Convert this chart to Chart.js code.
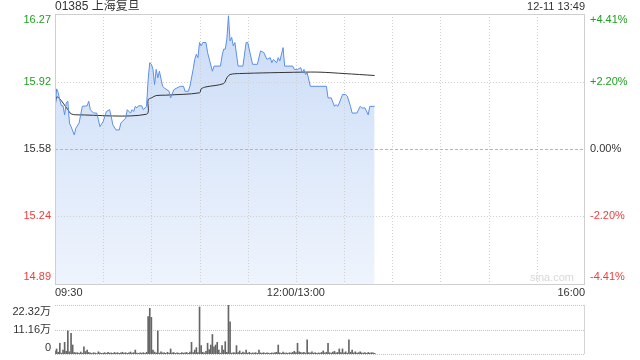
<!DOCTYPE html>
<html>
<head>
<meta charset="utf-8">
<script src="https://cdn.jsdelivr.net/npm/chart.js@4.4.1/dist/chart.umd.min.js"></script>
<style>
  html, body { margin: 0; padding: 0; background: #fff; }
  #wrap { position: relative; width: 640px; height: 360px; }
  canvas { position: absolute; left: 0; }
  #priceChart { top: 0; }
  #volChart { top: 300px; }
</style>
</head>
<body>
<div id="wrap">
  <canvas id="priceChart" width="640" height="300"></canvas>
  <canvas id="volChart" width="640" height="60"></canvas>
</div>
<script>
// ---- chart data ----
const stockTitle = '01385 上海复旦';
const stampText = '12-11 13:49';
const prevClose = 15.58;

const priceTicks = [16.267, 15.923, 15.58, 15.237, 14.893];
const priceTickLabels = ['16.27', '15.92', '15.58', '15.24', '14.89'];
const pctTickLabels = ['+4.41%', '+2.20%', '0.00%', '-2.20%', '-4.41%'];

const timeTicks = [0, 150, 330];               // minutes after 09:30 (lunch break removed)
const timeTickLabels = ['09:30', '12:00/13:00', '16:00'];

const volTicks = [22.32, 11.16, 0];
const volTickLabels = ['22.32万', '11.16万', '0'];

// price line vertices: minute index -> price
const priceMinutes = [0, 1, 2, 3, 4, 5, 6, 7, 8, 9, 10, 12, 13, 15, 17, 20, 21, 22, 24, 26,
  27, 28, 30, 32, 34, 35, 36, 38, 40, 41, 44, 45, 47, 48, 49, 50, 51, 52, 54, 55,
  57, 58, 59, 60, 61, 62, 63, 64, 65, 67, 68, 71, 72, 74, 76, 78, 80, 81, 83, 84,
  86, 87, 88, 89, 90, 91, 92, 94, 95, 98, 99, 103, 104, 105, 106, 107, 108, 109, 110, 111,
  112, 114, 117, 119, 120, 123, 126, 128, 130, 132, 134, 135, 136, 138, 139, 140, 142, 143, 148, 149,
  151, 153, 154, 155, 156, 157, 159, 169, 170, 172, 174, 175, 176, 177, 179, 181, 182, 184, 185, 188,
  190, 191, 193, 195, 196, 199];
const priceValues = [15.78, 15.886, 15.866, 15.83, 15.80, 15.80, 15.754, 15.814, 15.823, 15.712, 15.694, 15.652, 15.686, 15.712, 15.797, 15.80, 15.823, 15.78, 15.763, 15.763,
  15.729, 15.694, 15.72, 15.771, 15.78, 15.746, 15.703, 15.677, 15.677, 15.712, 15.737, 15.78, 15.763, 15.78, 15.771, 15.797, 15.789, 15.80, 15.80, 15.78,
  15.797, 15.934, 16.019, 16.011, 15.985, 15.908, 15.985, 15.942, 15.976, 15.899, 15.891, 15.874, 15.84, 15.882, 15.891, 15.899, 15.899, 15.874, 15.874, 15.899,
  15.985, 16.036, 16.062, 16.045, 16.122, 16.105, 16.122, 16.122, 16.071, 15.976, 16.002, 16.002, 16.053, 16.088, 16.088, 16.139, 16.258, 16.13, 16.148, 16.105,
  16.122, 16.002, 16.002, 16.122, 16.122, 16.011, 16.011, 16.079, 16.071, 16.036, 16.045, 16.019, 16.036, 16.019, 16.045, 16.028, 16.096, 16.002, 16.002, 15.985,
  15.985, 15.994, 15.968, 15.985, 15.959, 15.968, 15.899, 15.899, 15.84, 15.84, 15.797, 15.806, 15.797, 15.814, 15.857, 15.857, 15.849, 15.797, 15.763, 15.763,
  15.797, 15.789, 15.789, 15.754, 15.797, 15.797];

// average price line vertices
const avgMinutes = [0, 1, 3, 5, 8, 10, 13, 57, 58, 60, 63, 69, 90, 91, 94, 105, 107, 109, 115, 153, 165, 180, 199];
const avgValues = [15.78, 15.845, 15.835, 15.814, 15.78, 15.759, 15.754, 15.757, 15.831, 15.84, 15.852, 15.854, 15.866, 15.886, 15.896, 15.913, 15.942, 15.959, 15.964, 15.971, 15.971, 15.964, 15.954];

// volume per minute (万股), from 09:30
const volumes = [1.4, 2.3, 0.8, 4.9, 0.4, 1.8, 5.3, 1.2, 10.5, 1.0, 9.4, 4.1, 0.7, 0.5, 0.6, 0.3, 0.9, 0.4, 3.3, 1.1,
  1.8, 0.7, 0.5, 0.3, 0.6, 0.4, 0.2, 1.0, 0.5, 0.3, 0.4, 0.6, 0.3, 0.8, 0.4, 0.5, 0.3, 0.7, 0.4, 0.6,
  0.3, 0.5, 0.8, 0.4, 0.6, 0.3, 0.5, 0.9, 0.4, 0.6, 1.8, 0.4, 0.3, 0.5, 0.4, 0.6, 0.3, 0.8, 17.0, 20.8,
  16.7, 1.8, 0.9, 0.5, 10.5, 0.4, 1.0, 0.5, 0.6, 0.3, 0.8, 0.4, 2.3, 0.5, 0.6, 0.3, 0.5, 0.4, 0.3, 0.6,
  0.4, 0.5, 0.7, 0.3, 0.9, 5.3, 0.6, 1.8, 2.9, 0.7, 21.4, 3.8, 0.8, 0.5, 1.2, 4.9, 2.0, 4.1, 8.9, 3.3,
  4.1, 5.3, 1.8, 0.4, 3.8, 1.8, 5.6, 0.8, 22.3, 14.7, 0.4, 0.6, 0.5, 3.8, 0.7, 1.4, 0.4, 0.9, 0.5, 1.8,
  0.4, 0.8, 0.3, 0.5, 0.4, 0.6, 0.3, 1.8, 0.5, 0.4, 0.6, 0.3, 0.5, 0.4, 0.3, 0.5, 0.4, 0.6, 0.8, 4.1,
  0.5, 0.3, 0.9, 0.4, 0.5, 0.3, 0.6, 0.4, 0.8, 1.2, 0.6, 4.9, 1.0, 0.7, 0.5, 0.8, 0.4, 6.4, 0.6, 0.5,
  1.0, 0.4, 0.6, 0.3, 0.5, 0.4, 0.7, 1.4, 0.5, 0.8, 4.9, 0.6, 0.4, 0.9, 1.2, 0.5, 0.7, 2.3, 0.6, 2.3,
  0.5, 1.0, 0.4, 6.4, 0.8, 1.8, 0.5, 1.0, 0.4, 0.6, 1.0, 0.5, 0.4, 0.6, 0.3, 0.7, 0.4, 0.6, 0.5, 0.3];

// ---- styling ----
const FONT = "'Liberation Sans', Arial, 'Noto Sans CJK SC', sans-serif";
const UP = '#1f9f1f';
const DOWN = '#f03c3c';
const TEXT = '#333';

function strokeLine(ctx, x1, y1, x2, y2) {
  ctx.beginPath();
  ctx.moveTo(x1, y1);
  ctx.lineTo(x2, y2);
  ctx.stroke();
}

function tickColor(i, n) {
  const mid = (n - 1) / 2;
  if (i < mid) return UP;
  if (i > mid) return DOWN;
  return TEXT;
}

// grid, frame and labels for the price panel
const priceFrame = {
  id: 'priceFrame',
  beforeDatasetsDraw(chart) {
    const { ctx, chartArea: a, scales: { x, y } } = chart;
    ctx.save();
    ctx.lineWidth = 1;
    ctx.strokeStyle = '#cfcfcf';
    ctx.setLineDash([1, 2]);
    for (let m = 30; m < 330; m += 30) {
      const px = Math.round(x.getPixelForValue(m)) + 0.5;
      strokeLine(ctx, px, a.top, px, a.bottom);
    }
    priceTicks.forEach((v, i) => {
      if (i === 0 || i === priceTicks.length - 1) return;
      const py = Math.round(y.getPixelForValue(v)) + 0.5;
      if (v === prevClose) {
        ctx.setLineDash([3, 2]);
        ctx.strokeStyle = '#b5b5b5';
      } else {
        ctx.setLineDash([1, 2]);
        ctx.strokeStyle = '#cfcfcf';
      }
      strokeLine(ctx, a.left, py, a.right, py);
    });
    ctx.restore();
  },
  afterDraw(chart) {
    const { ctx, chartArea: a, scales: { x, y } } = chart;
    ctx.save();
    // frame
    ctx.strokeStyle = '#cfcfcf';
    ctx.lineWidth = 1;
    ctx.strokeRect(a.left + 0.5, a.top + 0.5, a.right - a.left - 1, a.bottom - a.top);

    // title and timestamp
    ctx.font = '12px ' + FONT;
    ctx.fillStyle = TEXT;
    ctx.textBaseline = 'middle';
    ctx.textAlign = 'left';
    ctx.fillText(stockTitle, a.left, 7);
    ctx.font = '11px ' + FONT;
    ctx.textAlign = 'right';
    ctx.fillText(stampText, a.right, 7);

    // price / percent labels
    const n = priceTicks.length;
    priceTicks.forEach((v, i) => {
      let py = y.getPixelForValue(v);
      if (i === 0) py += 6;
      if (i === n - 1) py -= 7;
      ctx.fillStyle = tickColor(i, n);
      ctx.textAlign = 'right';
      ctx.fillText(priceTickLabels[i], a.left - 4, py);
      ctx.textAlign = 'left';
      ctx.fillText(pctTickLabels[i], a.right + 5, py);
    });

    // time labels
    ctx.fillStyle = TEXT;
    timeTicks.forEach((m, i) => {
      ctx.textAlign = i === 0 ? 'left' : (i === timeTicks.length - 1 ? 'right' : 'center');
      ctx.fillText(timeTickLabels[i], x.getPixelForValue(m), a.bottom + 9);
    });

    // watermark
    ctx.fillStyle = '#d8d8d8';
    ctx.textAlign = 'right';
    ctx.fillText('sina.com', a.right - 11, a.bottom - 6);
    ctx.restore();
  }
};

// grid and labels for the volume panel
const volFrame = {
  id: 'volFrame',
  beforeDatasetsDraw(chart) {
    const { ctx, chartArea: a, scales: { y } } = chart;
    ctx.save();
    ctx.lineWidth = 1;
    ctx.strokeStyle = '#c4c4c4';
    ctx.setLineDash([1, 1]);
    volTicks.forEach(v => {
      const py = Math.round(y.getPixelForValue(v)) + 0.5;
      strokeLine(ctx, a.left, py, a.right, py);
    });
    ctx.setLineDash([]);
    ctx.strokeStyle = '#d4d4d4';
    strokeLine(ctx, a.right - 0.5, a.top, a.right - 0.5, a.bottom);
    ctx.restore();
  },
  afterDraw(chart) {
    const { ctx, chartArea: a, scales: { y } } = chart;
    ctx.save();
    ctx.font = '11px ' + FONT;
    ctx.fillStyle = TEXT;
    ctx.textAlign = 'right';
    ctx.textBaseline = 'middle';
    volTicks.forEach((v, i) => {
      let py = y.getPixelForValue(v);
      if (i === 0) py += 7;
      if (i === volTicks.length - 1) py -= 6;
      ctx.fillText(volTickLabels[i], a.left - 4, py);
    });
    ctx.restore();
  }
};

const hiddenAxis = { display: false };

new Chart(document.getElementById('priceChart'), {
  type: 'line',
  data: {
    datasets: [
      {
        data: priceMinutes.map((m, i) => ({ x: m, y: priceValues[i] })),
        borderColor: '#5a8fe8',
        borderWidth: 1,
        pointRadius: 0,
        tension: 0,
        fill: 'start',
        backgroundColor: ctx => {
          const a = ctx.chart.chartArea;
          if (!a) return 'rgba(180,205,245,0.4)';
          const g = ctx.chart.ctx.createLinearGradient(0, a.top, 0, a.bottom);
          g.addColorStop(0, 'rgba(150,185,240,0.5)');
          g.addColorStop(1, 'rgba(222,233,250,0.5)');
          return g;
        }
      },
      {
        data: avgMinutes.map((m, i) => ({ x: m, y: avgValues[i] })),
        borderColor: '#333',
        borderWidth: 1,
        pointRadius: 0,
        tension: 0.3,
        fill: false
      }
    ]
  },
  options: {
    responsive: false,
    animation: false,
    events: [],
    layout: { padding: { left: 55, right: 55, top: 14, bottom: 16 } },
    scales: {
      x: { type: 'linear', min: 0, max: 330, ...hiddenAxis },
      y: { type: 'linear', min: priceTicks[priceTicks.length - 1], max: priceTicks[0], ...hiddenAxis }
    },
    plugins: {
      legend: { display: false },
      tooltip: { enabled: false },
      filler: { drawTime: 'beforeDatasetsDraw' }
    }
  },
  plugins: [priceFrame]
});

new Chart(document.getElementById('volChart'), {
  type: 'bar',
  data: {
    datasets: [{
      data: volumes.map((v, i) => ({ x: i, y: v })),
      backgroundColor: '#666',
      borderWidth: 0,
      barThickness: 1
    }]
  },
  options: {
    responsive: false,
    animation: false,
    events: [],
    layout: { padding: { left: 55, right: 55, top: 5, bottom: 6 } },
    scales: {
      x: { type: 'linear', min: 0, max: 330, offset: false, ...hiddenAxis },
      y: { min: 0, max: volTicks[0], ...hiddenAxis }
    },
    plugins: {
      legend: { display: false },
      tooltip: { enabled: false }
    }
  },
  plugins: [volFrame]
});
</script>
</body>
</html>
